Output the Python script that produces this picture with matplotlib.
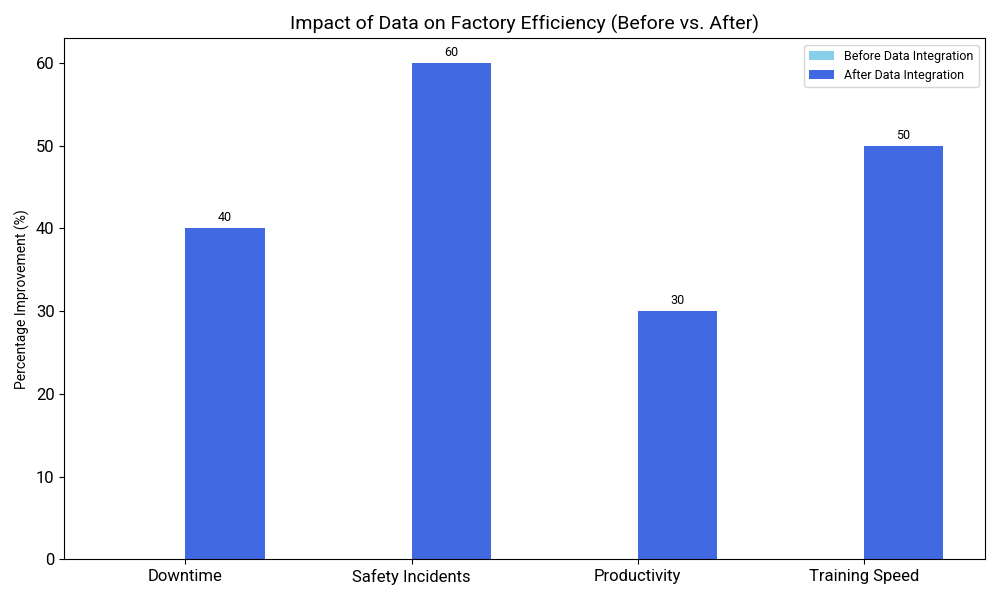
import numpy as np
import matplotlib
matplotlib.use("Agg")
import matplotlib.pyplot as plt

plt.rcParams['font.family'] = ['Roboto', 'DejaVu Sans']

# data
categories = ["Downtime", "Safety Incidents", "Productivity", "Training Speed"]
before_values = [0, 0, 0, 0]
after_values = [40, 60, 30, 50]

x = np.arange(len(categories))
width = 0.35

fig, ax = plt.subplots(figsize=(10, 6), dpi=100)
ax.bar(x - width, before_values, width, align='edge',
       color='skyblue', label='Before Data Integration')
bars = ax.bar(x, after_values, width, align='edge',
              color='royalblue', label='After Data Integration')

for b, v in zip(bars, after_values):
    ax.annotate(f"{v}", (b.get_x() + b.get_width() / 2, v),
                xytext=(0, 3), textcoords='offset points',
                ha='center', va='bottom', fontsize=9)

ax.set_title("Impact of Data on Factory Efficiency (Before vs. After)", fontsize=14)
ax.set_ylabel("Percentage Improvement (%)", fontsize=10)
ax.set_xticks(x)
ax.set_xticklabels(categories, fontsize=12)
ax.tick_params(axis='y', labelsize=12)
ax.legend(fontsize=9, loc='upper right')

plt.tight_layout()
plt.savefig("out.png")
